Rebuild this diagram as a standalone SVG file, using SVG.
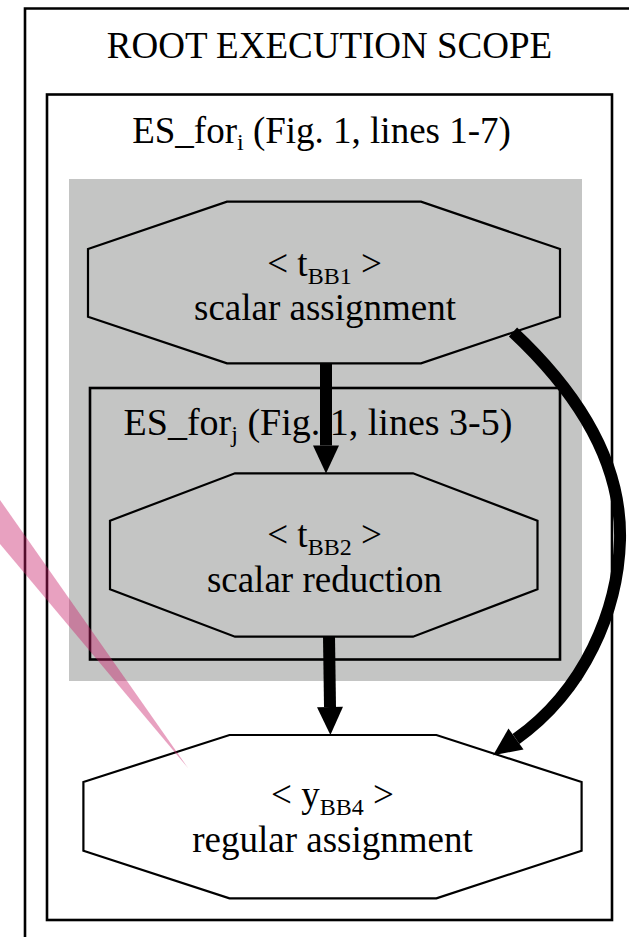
<svg xmlns="http://www.w3.org/2000/svg" width="629" height="937" viewBox="0 0 629 937">
  <style>
    text { font-family: "Liberation Serif", "Times New Roman", serif; fill: #000; }
    .t { font-size: 37px; text-anchor: middle; }
    .sub { font-size: 24px; }
    .box { fill: none; stroke: #000; stroke-width: 2.6; }
    .oct { stroke: #000; stroke-width: 2.2; stroke-linejoin: miter; }
    .gray { fill: #c4c5c4; }
    .edge { fill: none; stroke: #000; stroke-width: 12; stroke-linecap: butt; }
  </style>
  <defs>
    <marker id="head" markerUnits="userSpaceOnUse" markerWidth="30" markerHeight="30" viewBox="0 -15 30 30" refX="0" refY="0" orient="auto" overflow="visible">
      <polygon points="0,-13 28,0 0,13" fill="#000"/>
    </marker>
  </defs>
  <rect x="0" y="0" width="629" height="937" fill="#fff"/>

  <g id="root-scope">
    <path class="box" d="M25,937 L25,8.5 L629,8.5" stroke-width="2.8"/>
    <text class="t" x="329.5" y="57.5">ROOT EXECUTION SCOPE</text>
  </g>

  <g id="es-for-i">
    <rect class="box" x="47" y="94.5" width="565" height="825.5"/>
    <text class="t" x="321.5" y="142.5">ES_for<tspan class="sub" dy="7">i</tspan><tspan dy="-7"> (Fig. 1, lines 1-7)</tspan></text>
    <rect class="gray" x="69" y="179" width="513" height="502"/>
  </g>

  <g id="es-for-j">
    <rect class="box" x="90" y="388" width="470" height="271.5"/>
    <text class="t" x="318" y="435" style="font-size:38px">ES_for<tspan class="sub" dy="7">j</tspan><tspan dy="-7"> (Fig. 1, lines 3-5)</tspan></text>
  </g>

  <g id="node-bb1">
    <polygon class="oct gray" points="227,201.7 421,201.7 560,249 560,316.7 421,363.3 227,363.3 88,316.7 88,249"/>
    <text class="t" x="324.5" y="276">&lt; t<tspan class="sub" dy="8">BB1</tspan><tspan dy="-8"> &gt;</tspan></text>
    <text class="t" x="325" y="320">scalar assignment</text>
  </g>

  <g id="node-bb2">
    <polygon class="oct gray" points="235,473.3 413,473.3 537.5,520.7 537.5,589.3 413,636.7 235,636.7 110,589.3 110,520.7"/>
    <text class="t" x="324.5" y="547">&lt; t<tspan class="sub" dy="8">BB2</tspan><tspan dy="-8"> &gt;</tspan></text>
    <text class="t" x="324.5" y="592">scalar reduction</text>
  </g>

  <g id="node-bb4">
    <polygon class="oct" fill="#fff" points="229.5,735 436.4,735 581.6,782 581.6,850.7 436.4,898.3 229.5,898.3 83.4,850.7 83.4,782"/>
    <text class="t" x="332.5" y="807">&lt; y<tspan class="sub" dy="8">BB4</tspan><tspan dy="-8"> &gt;</tspan></text>
    <text class="t" x="332.5" y="852">regular assignment</text>
  </g>

  <g id="connectors">
    <path class="edge" d="M326,363.3 L326,445.5" marker-end="url(#head)"/>
    <path class="edge" d="M329,636.7 L330,707" marker-end="url(#head)"/>
    <path class="edge" d="M513,332 C575,390 622,460 620,540 C618,610 585,690 516,739" marker-end="url(#head)"/>
  </g>

  <g id="overlay">
    <polygon points="0,500 0,544 188,768" fill="#c8206a" fill-opacity="0.42"/>
  </g>
</svg>
